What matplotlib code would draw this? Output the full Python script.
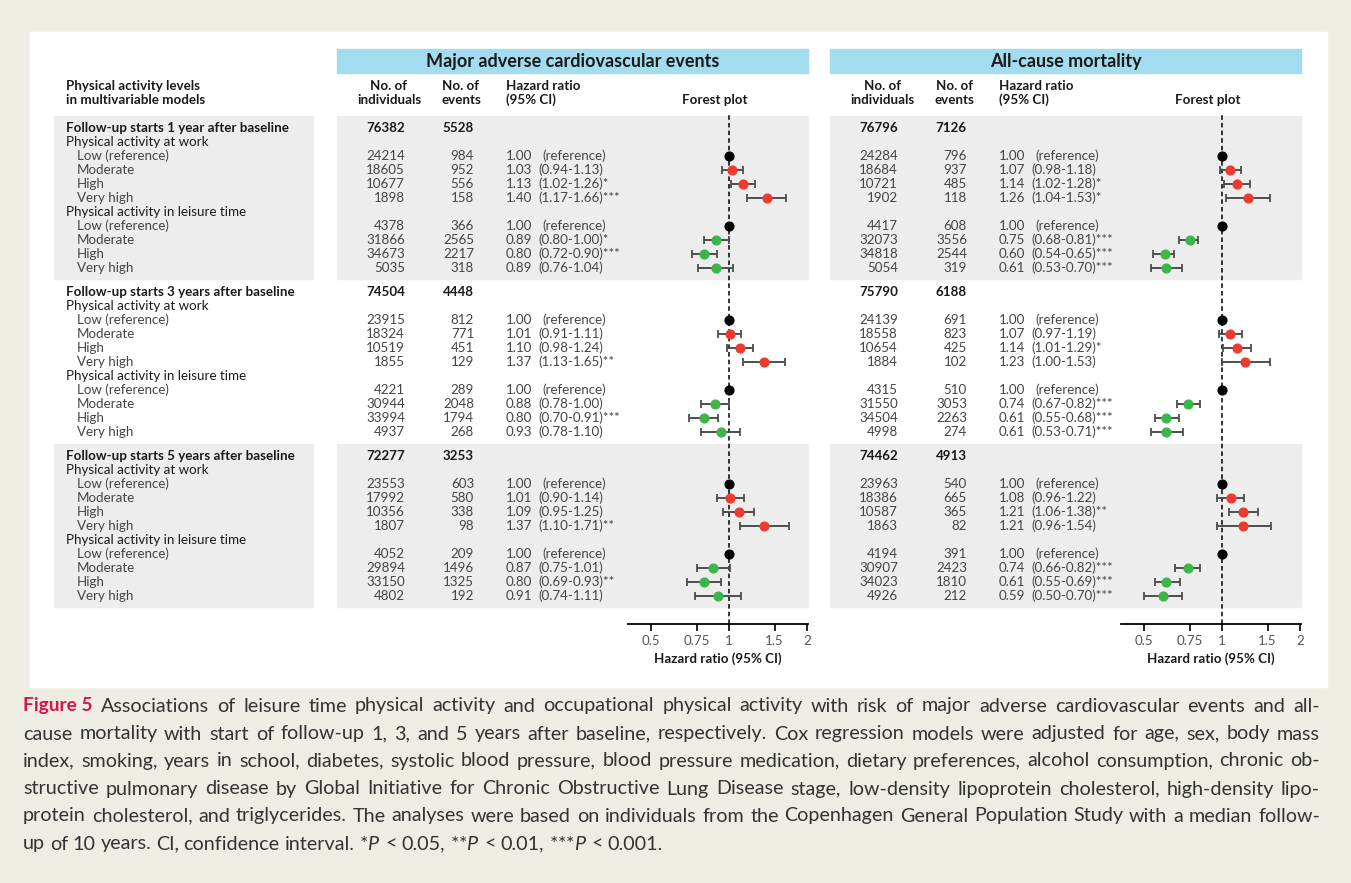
import matplotlib.pyplot as plt
from matplotlib.patches import Rectangle
import numpy as np

plt.rcParams['font.family'] = ['Lato', 'DejaVu Sans']
plt.rcParams['mathtext.fontset'] = 'custom'
plt.rcParams['mathtext.rm'] = 'Lato'
plt.rcParams['mathtext.it'] = 'Lato:italic'

# ---- data ----
sections = ["Follow-up starts 1 year after baseline",
            "Follow-up starts 3 years after baseline",
            "Follow-up starts 5 years after baseline"]
groups = ["Physical activity at work", "Physical activity in leisure time"]
levels = ["Low (reference)", "Moderate", "High", "Very high"]
outcomes = ["Major adverse cardiovascular events", "All-cause mortality"]

mace_total_n = [76382, 74504, 72277]
mace_total_ev = [5528, 4448, 3253]
mace_n = [[24214, 18605, 10677, 1898, 4378, 31866, 34673, 5035],
          [23915, 18324, 10519, 1855, 4221, 30944, 33994, 4937],
          [23553, 17992, 10356, 1807, 4052, 29894, 33150, 4802]]
mace_ev = [[984, 952, 556, 158, 366, 2565, 2217, 318],
           [812, 771, 451, 129, 289, 2048, 1794, 268],
           [603, 580, 338, 98, 209, 1496, 1325, 192]]
mace_hr = [[1.00, 1.03, 1.13, 1.40, 1.00, 0.89, 0.80, 0.89],
           [1.00, 1.01, 1.10, 1.37, 1.00, 0.88, 0.80, 0.93],
           [1.00, 1.01, 1.09, 1.37, 1.00, 0.87, 0.80, 0.91]]
mace_lo = [[1.00, 0.94, 1.02, 1.17, 1.00, 0.80, 0.72, 0.76],
           [1.00, 0.91, 0.98, 1.13, 1.00, 0.78, 0.70, 0.78],
           [1.00, 0.90, 0.95, 1.10, 1.00, 0.75, 0.69, 0.74]]
mace_hi = [[1.00, 1.13, 1.26, 1.66, 1.00, 1.00, 0.90, 1.04],
           [1.00, 1.11, 1.24, 1.65, 1.00, 1.00, 0.91, 1.10],
           [1.00, 1.14, 1.25, 1.71, 1.00, 1.01, 0.93, 1.11]]
mace_star = [["", "", "*", "***", "", "*", "***", ""],
             ["", "", "", "**", "", "", "***", ""],
             ["", "", "", "**", "", "", "**", ""]]

acm_total_n = [76796, 75790, 74462]
acm_total_ev = [7126, 6188, 4913]
acm_n = [[24284, 18684, 10721, 1902, 4417, 32073, 34818, 5054],
         [24139, 18558, 10654, 1884, 4315, 31550, 34504, 4998],
         [23963, 18386, 10587, 1863, 4194, 30907, 34023, 4926]]
acm_ev = [[796, 937, 485, 118, 608, 3556, 2544, 319],
          [691, 823, 425, 102, 510, 3053, 2263, 274],
          [540, 665, 365, 82, 391, 2423, 1810, 212]]
acm_hr = [[1.00, 1.07, 1.14, 1.26, 1.00, 0.75, 0.60, 0.61],
          [1.00, 1.07, 1.14, 1.23, 1.00, 0.74, 0.61, 0.61],
          [1.00, 1.08, 1.21, 1.21, 1.00, 0.74, 0.61, 0.59]]
acm_lo = [[1.00, 0.98, 1.02, 1.04, 1.00, 0.68, 0.54, 0.53],
          [1.00, 0.97, 1.01, 1.00, 1.00, 0.67, 0.55, 0.53],
          [1.00, 0.96, 1.06, 0.96, 1.00, 0.66, 0.55, 0.50]]
acm_hi = [[1.00, 1.18, 1.28, 1.53, 1.00, 0.81, 0.65, 0.70],
          [1.00, 1.19, 1.29, 1.53, 1.00, 0.82, 0.68, 0.71],
          [1.00, 1.22, 1.38, 1.54, 1.00, 0.82, 0.69, 0.70]]
acm_star = [["", "", "*", "*", "", "***", "***", "***"],
            ["", "", "*", "", "", "***", "***", "***"],
            ["", "", "**", "", "", "***", "***", "***"]]

ticks = [0.5, 0.75, 1, 1.5, 2]
tick_labels = ["0.5", "0.75", "1", "1.5", "2"]

caption_lines = [
    "Associations of leisure time physical activity and occupational physical activity with risk of major adverse cardiovascular events and all-",
    "cause mortality with start of follow-up 1, 3, and 5 years after baseline, respectively. Cox regression models were adjusted for age, sex, body mass",
    "index, smoking, years in school, diabetes, systolic blood pressure, blood pressure medication, dietary preferences, alcohol consumption, chronic ob-",
    "structive pulmonary disease by Global Initiative for Chronic Obstructive Lung Disease stage, low-density lipoprotein cholesterol, high-density lipo-",
    "protein cholesterol, and triglycerides. The analyses were based on individuals from the Copenhagen General Population Study with a median follow-",
    "up of 10 years. CI, confidence interval. *$P$ < 0.05, **$P$ < 0.01, ***$P$ < 0.001.",
]

# ---- styles ----
BEIGE = '#EEEDE4'
CYAN = '#A3DCEE'
GREY = '#ECEDEC'
TXT = '#444444'
DARK = '#1a1a1a'
RED = '#EE3B2F'
GREEN = '#3DB54A'
FS = 9.6

W, H = 1351, 883
fig = plt.figure(figsize=(W / 100, H / 100), dpi=100)
fig.patch.set_facecolor(BEIGE)
bg = fig.add_axes([0, 0, 1, 1])
bg.set_xlim(0, W)
bg.set_ylim(H, 0)
bg.axis('off')
bg.add_patch(Rectangle((30, 32), 1297, 655, color='white', zorder=0))


def row_y(s, k):
    return 128 + 164 * s + 14 * k


level_k = [2, 3, 4, 5, 7, 8, 9, 10]

# left label column
bg.text(66, 86, "Physical activity levels", fontsize=FS, weight='bold', color=DARK, va='center')
bg.text(66, 100, "in multivariable models", fontsize=FS, weight='bold', color=DARK, va='center')
for s in range(3):
    if s != 1:
        top = row_y(s, 0) - 12
        bg.add_patch(Rectangle((54, top), 259, row_y(s, 10) + 11 - top, color=GREY, zorder=0.5))
    bg.text(66, row_y(s, 0), sections[s], fontsize=FS, weight='bold', color=DARK, va='center')
    bg.text(66, row_y(s, 1), groups[0], fontsize=FS, color=DARK, va='center')
    bg.text(66, row_y(s, 6), groups[1], fontsize=FS, color=DARK, va='center')
    for j in range(8):
        bg.text(77, row_y(s, level_k[j]), levels[j % 4], fontsize=FS, color=TXT, va='center')

panels = [
    (mace_total_n, mace_total_ev, mace_n, mace_ev, mace_hr, mace_lo, mace_hi, mace_star),
    (acm_total_n, acm_total_ev, acm_n, acm_ev, acm_hr, acm_lo, acm_hi, acm_star),
]

for o, (tn, te, nn, ev, hr, lo, hi, st) in enumerate(panels):
    dx = 493 * o
    bg.add_patch(Rectangle((337 + dx, 49), 471, 24, color=CYAN, zorder=0.5))
    bg.text(572.5 + dx, 61, outcomes[o], fontsize=13, weight='bold', color=DARK,
            ha='center', va='center')
    bg.text(389 + dx, 86, "No. of", fontsize=FS, weight='bold', color=DARK, ha='center', va='center')
    bg.text(389 + dx, 100, "individuals", fontsize=FS, weight='bold', color=DARK, ha='center', va='center')
    bg.text(461 + dx, 86, "No. of", fontsize=FS, weight='bold', color=DARK, ha='center', va='center')
    bg.text(461 + dx, 100, "events", fontsize=FS, weight='bold', color=DARK, ha='center', va='center')
    bg.text(506 + dx, 86, "Hazard ratio", fontsize=FS, weight='bold', color=DARK, va='center')
    bg.text(506 + dx, 100, "(95% CI)", fontsize=FS, weight='bold', color=DARK, va='center')
    bg.text(715 + dx, 100, "Forest plot", fontsize=FS, weight='bold', color=DARK, ha='center', va='center')

    for s in range(3):
        if s != 1:
            top = row_y(s, 0) - 12
            bg.add_patch(Rectangle((337 + dx, top), 471, row_y(s, 10) + 11 - top,
                                   color=GREY, zorder=0.5))
        y0 = row_y(s, 0)
        bg.text(405 + dx, y0, str(tn[s]), fontsize=FS, weight='bold', color=DARK, ha='right', va='center')
        bg.text(474 + dx, y0, str(te[s]), fontsize=FS, weight='bold', color=DARK, ha='right', va='center')
        for j in range(8):
            y = row_y(s, level_k[j])
            bg.text(405 + dx, y, str(nn[s][j]), fontsize=FS, color=TXT, ha='right', va='center')
            bg.text(474 + dx, y, str(ev[s][j]), fontsize=FS, color=TXT, ha='right', va='center')
            bg.text(506 + dx, y, f"{hr[s][j]:.2f}", fontsize=FS, color=TXT, va='center')
            if j % 4 == 0:
                bg.text(542 + dx, y, "(reference)", fontsize=FS, color=TXT, va='center')
            else:
                bg.text(538 + dx, y, f"({lo[s][j]:.2f}-{hi[s][j]:.2f}){st[s][j]}",
                        fontsize=FS, color=TXT, va='center')

    # forest plot
    ax = fig.add_axes([(628 + dx) / W, 1 - 624 / H, 180 / W, (624 - 115) / H])
    ax.patch.set_alpha(0)
    ax.set_xscale('log')
    ax.set_xlim(0.4075, 2.018)
    ax.set_ylim(624, 115)
    ax.axvline(1, color='black', lw=1.1, ls=(0, (3, 2)), zorder=1)
    for s in range(3):
        for j in range(8):
            y = row_y(s, level_k[j])
            h = hr[s][j]
            if j % 4 == 0:
                c = 'black'
            else:
                c = RED if j < 4 else GREEN
                ax.errorbar([h], [y], xerr=[[h - lo[s][j]], [hi[s][j] - h]], fmt='none',
                            ecolor='#4d4d4d', elinewidth=1.4, capsize=2.6, capthick=1.3, zorder=2)
            ax.plot([h], [y], 'o', color=c, ms=6.3, mec=c, zorder=3)
    for side in ['left', 'right', 'top']:
        ax.spines[side].set_visible(False)
    ax.spines['bottom'].set_linewidth(1.3)
    ax.set_yticks([])
    ax.set_xticks(ticks)
    ax.set_xticklabels(tick_labels)
    ax.xaxis.set_minor_locator(plt.NullLocator())
    ax.tick_params(axis='x', length=5, width=1.2, labelsize=9.6, labelcolor='#555', pad=3)
    ax.set_xlabel("Hazard ratio (95% CI)", fontsize=FS, weight='bold', color=DARK, labelpad=4)

# ---- caption ----
renderer = fig.canvas.get_renderer()
CFS = 14.2
cap_y = [706, 734, 761, 789, 816, 844]
x_left, x_right = 23, 1320


def place_words(words, x0, x1, y, justify):
    fs = CFS
    while True:
        ts = [bg.text(0, y, w, fontsize=fs, color='#333333', va='center') for w in words]
        widths = [t.get_window_extent(renderer).width for t in ts]
        space = fs / 0.72 * 0.2
        if justify:
            gap = (x1 - x0 - sum(widths)) / (len(words) - 1)
        else:
            gap = fs / 0.72 * 0.24
        if gap >= space or fs < 10:
            break
        for t in ts:
            t.remove()
        fs -= 0.2
    x = x0
    for t, w in zip(ts, widths):
        t.set_x(x)
        x += w + gap


fig5 = bg.text(x_left, cap_y[0], "Figure 5", fontsize=13.8, weight='bold', color='#D3174A', va='center')
fw = fig5.get_window_extent(renderer).width
for i, line in enumerate(caption_lines):
    x0 = x_left + fw + 8 if i == 0 else x_left
    place_words(line.split(' '), x0, x_right, cap_y[i], i < len(caption_lines) - 1)

fig.savefig('out.png', dpi=100, facecolor=BEIGE)
